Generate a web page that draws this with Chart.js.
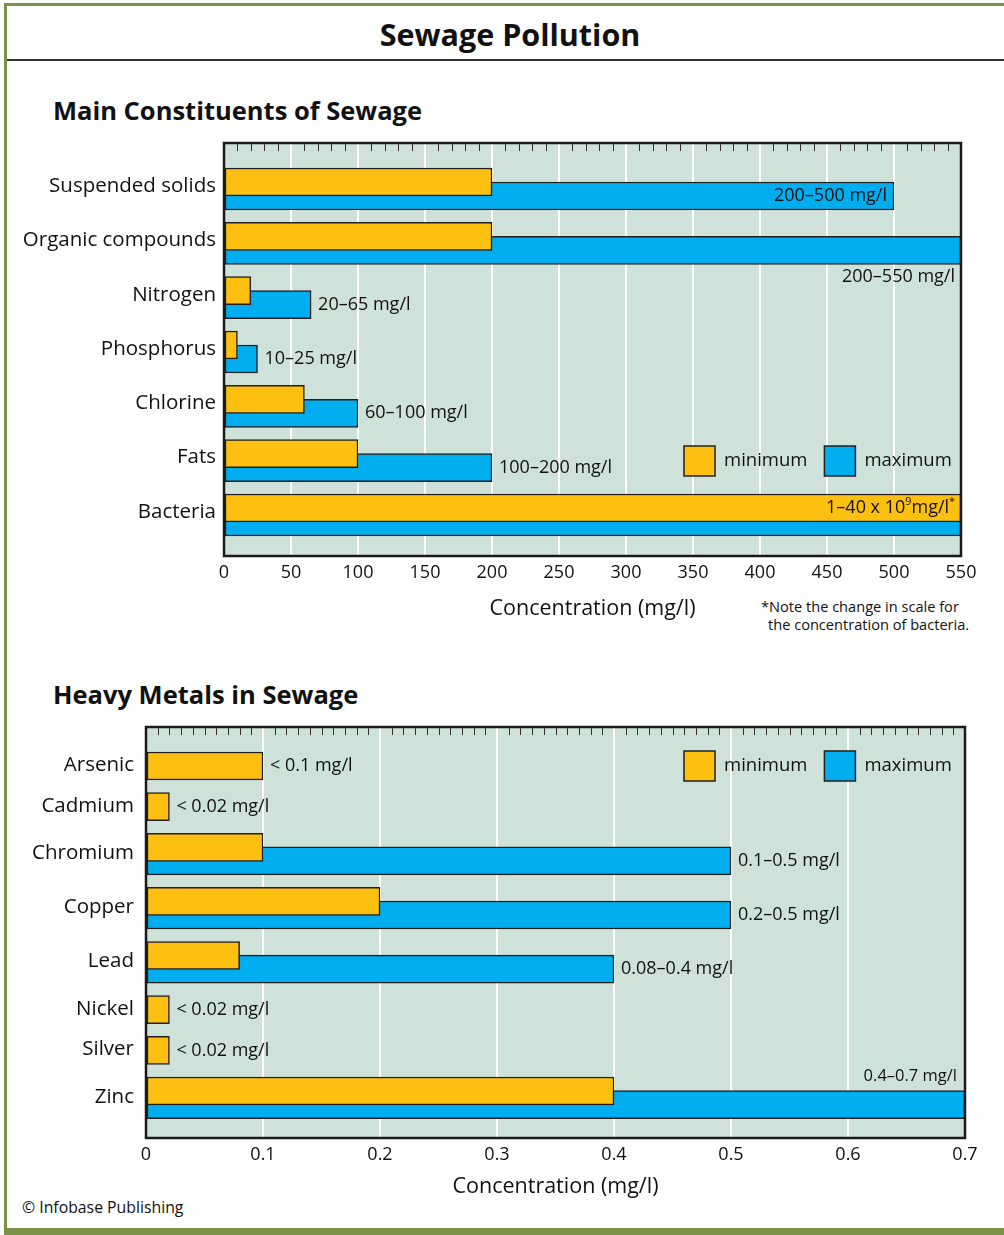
<!DOCTYPE html>
<html>
<head>
<meta charset="utf-8">
<script src="https://cdn.jsdelivr.net/npm/chart.js@4.4.1/dist/chart.umd.min.js"></script>
<style>
  body { margin: 0; background: #fff; font-family: "Open Sans", sans-serif; font-weight: 500; color: #111; }
  #page { position: relative; width: 1004px; height: 1235px; overflow: hidden; background: #fff; }
  .abs { position: absolute; white-space: nowrap; }
  canvas { position: absolute; left: 0; }
</style>
</head>
<body>
<div id="page">
  <div class="abs" style="left:4px;top:3px;width:3px;height:1232px;background:#7b9249"></div>
  <div class="abs" style="left:4px;top:3px;width:1000px;height:3px;background:#7b9249"></div>
  <div class="abs" style="left:4px;top:1228px;width:1000px;height:7px;background:#7b9249"></div>
  <div class="abs" style="left:8px;top:14px;width:1004px;height:40px;line-height:40px;text-align:center;font-size:30.5px;font-weight:bold">Sewage Pollution</div>
  <div class="abs" style="left:7px;top:59px;width:997px;height:2px;background:#333"></div>
  <div class="abs" style="left:53px;top:95px;height:30px;line-height:30px;font-size:25.5px;font-weight:bold">Main Constituents of Sewage</div>
  <div class="abs" style="left:53px;top:679px;height:30px;line-height:30px;font-size:25.5px;font-weight:bold">Heavy Metals in Sewage</div>
  <div class="abs" style="left:761px;top:597px;line-height:18px;font-size:14.6px">*Note the change in scale for</div>
  <div class="abs" style="left:768px;top:615px;line-height:18px;font-size:14.6px">the concentration of bacteria.</div>
  <div class="abs" style="left:22px;top:1197px;line-height:20px;font-size:15.8px">© Infobase Publishing</div>
  <canvas id="mainChart" width="1004" height="520" style="top:130px"></canvas>
  <canvas id="metalChart" width="1004" height="520" style="top:715px"></canvas>
</div>
<script>
const seriesNames = ["minimum", "maximum"];

// Main constituents of sewage (mg/l)
const mainCategories = ["Suspended solids", "Organic compounds", "Nitrogen", "Phosphorus", "Chlorine", "Fats", "Bacteria"];
const mainMinimum = [200, 200, 20, 10, 60, 100, 550];
const mainMaximum = [500, 550, 65, 25, 100, 200, 550];
const mainRangeText = ["200–500 mg/l", "200–550 mg/l", "20–65 mg/l", "10–25 mg/l", "60–100 mg/l", "100–200 mg/l", "1–40 x 10^9mg/l^*"];
const mainXTicks = [0, 50, 100, 150, 200, 250, 300, 350, 400, 450, 500, 550];

// Heavy metals in sewage (mg/l)
const metalCategories = ["Arsenic", "Cadmium", "Chromium", "Copper", "Lead", "Nickel", "Silver", "Zinc"];
const metalMinimum = [0.1, 0.02, 0.1, 0.2, 0.08, 0.02, 0.02, 0.4];
const metalMaximum = [null, null, 0.5, 0.5, 0.4, null, null, 0.7];
const metalRangeText = ["< 0.1 mg/l", "< 0.02 mg/l", "0.1–0.5 mg/l", "0.2–0.5 mg/l", "0.08–0.4 mg/l", "< 0.02 mg/l", "< 0.02 mg/l", "0.4–0.7 mg/l"];
const metalXTicks = [0, 0.1, 0.2, 0.3, 0.4, 0.5, 0.6, 0.7];

const FONT = '"Open Sans", sans-serif';
const YELLOW = "#fdc010";
const BLUE = "#00aeef";
const EDGE = "#231f20";
const PLOT_BG = "#cfe2da";

// draws text where "^x" means a raised small x
function drawRich(ctx, text, x, y, size, align) {
  const parts = text.split(/\^(.)/);
  const segs = [];
  let w = 0;
  parts.forEach((p, k) => {
    if (!p) return;
    const sup = k % 2 === 1;
    ctx.font = "500 " + (sup ? size * 0.6 : size) + "px " + FONT;
    const pw = ctx.measureText(p).width;
    segs.push({ p, sup, pw });
    w += pw;
  });
  let cx = align === "right" ? x - w : x;
  ctx.textAlign = "left";
  ctx.textBaseline = "middle";
  segs.forEach(s => {
    ctx.font = "500 " + (s.sup ? size * 0.6 : size) + "px " + FONT;
    ctx.fillText(s.p, cx, s.sup ? y - size * 0.35 : y);
    cx += s.pw;
  });
}

function panelPlugin(o) {
  return {
    id: "panel",
    beforeDraw(chart) {
      const a = chart.chartArea, ctx = chart.ctx;
      ctx.save();
      ctx.fillStyle = PLOT_BG;
      ctx.fillRect(a.left, a.top, a.right - a.left, a.bottom - a.top);
      ctx.restore();
    },
    afterDatasetsDraw(chart) {
      const ctx = chart.ctx, xs = chart.scales.x, ys = chart.scales.y;
      ctx.save();
      ctx.fillStyle = "#111";
      o.rangeText.forEach((t, i) => {
        const hasMax = o.maximum[i] != null;
        const place = o.placement[i] || "after";
        const size = (o.sizes && o.sizes[i]) || 18;
        const minY = ys.getPixelForValue(o.rows[i] - (hasMax ? o.half : 0));
        const maxY = ys.getPixelForValue(o.rows[i] + o.half);
        if (place === "insideMax") drawRich(ctx, t, xs.getPixelForValue(o.maximum[i]) - 7, maxY, size, "right");
        else if (place === "insideMin") drawRich(ctx, t, xs.getPixelForValue(o.minimum[i]) - 6, minY, size, "right");
        else if (place === "belowMax") drawRich(ctx, t, xs.getPixelForValue(o.maximum[i]) - 6, maxY + 27, size, "right");
        else if (place === "aboveMax") drawRich(ctx, t, xs.getPixelForValue(o.maximum[i]) - 8, maxY - 28, size, "right");
        else {
          const v = hasMax ? o.maximum[i] : o.minimum[i];
          drawRich(ctx, t, xs.getPixelForValue(v) + 7, hasMax ? maxY : minY, size, "left");
        }
      });
      ctx.restore();
    },
    afterDraw(chart) {
      const a = chart.chartArea, ctx = chart.ctx, xs = chart.scales.x;
      ctx.save();
      // minor tick marks along the top edge
      ctx.strokeStyle = "#333";
      ctx.lineWidth = 1;
      const per = Math.round(o.majorStep / o.minorStep);
      const n = Math.round(o.xMax / o.minorStep);
      for (let k = 1; k < n; k++) {
        if (k % per === 0) continue;
        const px = Math.round(xs.getPixelForValue(k * o.minorStep)) + 0.5;
        ctx.beginPath();
        ctx.moveTo(px, a.top);
        ctx.lineTo(px, a.top + 8);
        ctx.stroke();
      }
      // plot frame
      ctx.strokeStyle = "#1a1a1a";
      ctx.lineWidth = 2.5;
      ctx.strokeRect(a.left, a.top, a.right - a.left, a.bottom - a.top);
      // legend
      let lx = o.legend.x;
      const ly = o.legend.y;
      chart.data.datasets.forEach(ds => {
        ctx.fillStyle = ds.backgroundColor;
        ctx.fillRect(lx, ly - 15, 31, 30);
        ctx.strokeStyle = EDGE;
        ctx.lineWidth = 1.5;
        ctx.strokeRect(lx, ly - 15, 31, 30);
        ctx.fillStyle = "#111";
        ctx.font = "500 18.5px " + FONT;
        ctx.textAlign = "left";
        ctx.textBaseline = "middle";
        ctx.fillText(ds.label, lx + 40, ly);
        lx += 40 + ctx.measureText(ds.label).width + 17;
      });
      ctx.restore();
    }
  };
}

function buildChart(id, o) {
  const minPts = [], maxPts = [];
  o.categories.forEach((c, i) => {
    const hasMax = o.maximum[i] != null;
    minPts.push({ x: o.minimum[i], y: o.rows[i] - (hasMax ? o.half : 0) });
    if (hasMax) maxPts.push({ x: o.maximum[i], y: o.rows[i] + o.half });
  });
  const barStyle = { borderColor: EDGE, borderWidth: 1.5, borderSkipped: false, barThickness: 28, grouped: false };
  return new Chart(document.getElementById(id).getContext("2d"), {
    type: "bar",
    data: {
      datasets: [
        Object.assign({ label: seriesNames[0], data: minPts, backgroundColor: YELLOW }, barStyle),
        Object.assign({ label: seriesNames[1], data: maxPts, backgroundColor: BLUE }, barStyle)
      ]
    },
    options: {
      indexAxis: "y",
      responsive: false,
      animation: false,
      events: [],
      layout: { padding: { top: o.padTop, right: o.padRight, left: 0, bottom: 0 } },
      plugins: { legend: { display: false }, tooltip: { enabled: false } },
      scales: {
        x: {
          type: "linear",
          min: 0,
          max: o.xMax,
          offset: false,
          afterBuildTicks: s => { s.ticks = o.xTicks.map(v => ({ value: v })); },
          afterFit: s => { s.height = o.axisH; },
          grid: { color: "#ffffff", lineWidth: 2, drawTicks: false, offset: false },
          border: { display: false },
          ticks: {
            font: { family: FONT, size: 18, weight: 500 },
            color: "#111",
            padding: 6,
            maxRotation: 0,
            autoSkip: false,
            callback: v => String(v)
          },
          title: {
            display: true,
            text: "Concentration (mg/l)",
            font: { family: FONT, size: 21.5, weight: 500 },
            color: "#111",
            padding: { top: 0, bottom: o.titlePad }
          }
        },
        y: {
          type: "linear",
          min: 0,
          max: o.plotH,
          reverse: true,
          offset: false,
          afterBuildTicks: s => { s.ticks = o.rows.map(r => ({ value: r + o.labelShift })); },
          afterFit: s => { s.width = o.yWidth; s.paddingTop = 0; s.paddingBottom = 0; },
          grid: { display: false, drawTicks: false, offset: false },
          border: { display: false },
          ticks: {
            font: { family: FONT, size: 20.5, weight: 500 },
            color: "#111",
            padding: o.yPad,
            autoSkip: false,
            callback: (v, i) => o.categories[i]
          }
        }
      }
    },
    plugins: [panelPlugin(o)]
  });
}

// row centres, in pixels from the top of each plot
const mainRows = mainCategories.map((c, i) => 46 + 54.33 * i);
const metalRows = [];
metalCategories.forEach((c, i) => {
  if (i === 0) { metalRows.push(39); return; }
  const step = 40.7 + (metalMaximum[i - 1] != null ? 6.7 : 0) + (metalMaximum[i] != null ? 6.7 : 0);
  metalRows.push(metalRows[i - 1] + step);
});

buildChart("mainChart", {
  categories: mainCategories, minimum: mainMinimum, maximum: mainMaximum,
  rangeText: mainRangeText, xTicks: mainXTicks, xMax: 550, majorStep: 50, minorStep: 10,
  rows: mainRows, half: 7, labelShift: -3, plotH: 413,
  placement: { 0: "insideMax", 1: "belowMax", 6: "insideMin" },
  padTop: 13, padRight: 43, yWidth: 224, axisH: 94, titlePad: 28, yPad: 8,
  legend: { x: 684, y: 331 }
});

buildChart("metalChart", {
  categories: metalCategories, minimum: metalMinimum, maximum: metalMaximum,
  rangeText: metalRangeText, xTicks: metalXTicks, xMax: 0.7, majorStep: 0.1, minorStep: 0.01,
  rows: metalRows, half: 6.8, labelShift: -1, plotH: 411,
  placement: { 7: "aboveMax" }, sizes: { 7: 16.5 },
  padTop: 12, padRight: 39, yWidth: 146, axisH: 97, titlePad: 35, yPad: 12,
  legend: { x: 684, y: 51 }
});
</script>
</body>
</html>
